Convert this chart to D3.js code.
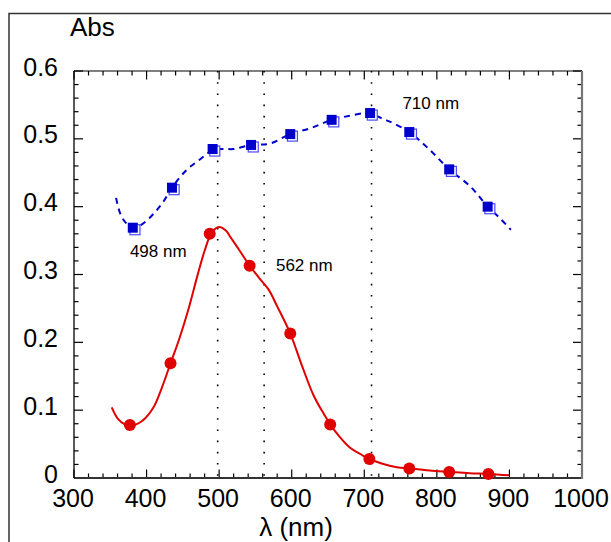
<!DOCTYPE html>
<html><head><meta charset="utf-8">
<script src="https://cdn.jsdelivr.net/npm/d3@7"></script>
<style>body{margin:0;background:#fff}svg{display:block}text{font-family:"Liberation Sans",Arial,sans-serif;fill:#000}</style>
</head><body>
<svg id="c" width="611" height="542"></svg>
<script>
// ---- data ----
const redCurveNm  = [352,360,370,380,395,410,420,433,445,458,470,480,490,500,510,515,529,542,555,568,580,598,615,630,645,653,665,680,695,707,725,745,762,790,817,845,871,900];
const redCurveAbs = [0.104,0.088,0.079,0.077,0.085,0.105,0.130,0.169,0.205,0.250,0.298,0.335,0.362,0.370,0.364,0.356,0.334,0.313,0.295,0.278,0.253,0.213,0.163,0.122,0.093,0.079,0.062,0.045,0.035,0.028,0.021,0.016,0.014,0.011,0.009,0.007,0.006,0.004];
const redMarkNm   = [377,433,487,542,598,653,707,762,817,871];
const redMarkAbs  = [0.078,0.169,0.360,0.313,0.213,0.079,0.028,0.014,0.009,0.006];

const blueCurveNm  = [358,363,370,381,395,410,423,435,455,474,491,505,520,544,570,598,627,655,680,700,708,726,736,762,790,817,846,870,885,902];
const blueCurveAbs = [0.413,0.392,0.378,0.369,0.375,0.390,0.407,0.428,0.454,0.470,0.483,0.485,0.485,0.491,0.493,0.507,0.516,0.528,0.534,0.538,0.538,0.529,0.525,0.510,0.484,0.455,0.430,0.400,0.385,0.366];
const blueMarkNm   = [381,435,491,544,598,655,708,762,817,870];
const blueMarkAbs  = [0.369,0.428,0.485,0.491,0.507,0.528,0.538,0.510,0.455,0.400];
const blueOpenNm   = [384,438,494,547,601,658,711,765,820,873];
const blueOpenAbs  = [0.366,0.425,0.482,0.488,0.504,0.525,0.535,0.507,0.452,0.397];

const peakLinesNm = [498,562,710];
const peakLabels  = ["498 nm","562 nm","710 nm"];
const xTicks = [300,400,500,600,700,800,900,1000];
const yTicks = [0,0.1,0.2,0.3,0.4,0.5,0.6];
const xTitle = "λ (nm)";
const yTitle = "Abs";

// ---- layout ----
const svg = d3.select("#c");
const L=74, R=582, T=71, B=478;
const x = d3.scaleLinear().domain([300,1000]).range([L,R]);
const y = d3.scaleLinear().domain([0,0.6]).range([B,T]);

// outer frame
svg.append("rect").attr("x",9).attr("y",13.5).attr("width",700).attr("height",700)
  .attr("fill","none").attr("stroke","#333").attr("stroke-width",1.5);

// dotted peak lines
svg.append("g").selectAll("line").data(peakLinesNm).join("line")
  .attr("x1",d=>x(d)).attr("x2",d=>x(d)).attr("y1",y(0.6)).attr("y2",y(0))
  .attr("stroke","#000").attr("stroke-width",1.6).attr("stroke-dasharray","1.6 9.6");

// ticks
const xMinor = d3.range(300,1001,20), yMinor = d3.range(0,0.6001,0.02);
const tg = svg.append("g").attr("stroke","#000").attr("stroke-width",1.2);
xMinor.forEach(v=>{
  const major = Math.abs(v%100)<1e-6;
  const len = major?8.5:4.5;
  tg.append("line").attr("x1",x(v)).attr("x2",x(v)).attr("y1",B).attr("y2",B-len);
  tg.append("line").attr("x1",x(v)).attr("x2",x(v)).attr("y1",T).attr("y2",T+len);
});
yMinor.forEach(v=>{
  const major = Math.abs(Math.round(v*10)-v*10)<1e-6;
  const len = major?9:4.5;
  tg.append("line").attr("x1",L).attr("x2",L+len).attr("y1",y(v)).attr("y2",y(v));
  tg.append("line").attr("x1",R).attr("x2",R-len).attr("y1",y(v)).attr("y2",y(v));
});

// axis lines
svg.append("line").attr("x1",L).attr("x2",R).attr("y1",T).attr("y2",T).attr("stroke","#000").attr("stroke-width",1.2);
svg.append("line").attr("x1",L).attr("x2",R+1).attr("y1",B).attr("y2",B).attr("stroke","#333").attr("stroke-width",1.8);
svg.append("line").attr("x1",L).attr("x2",L).attr("y1",T).attr("y2",B).attr("stroke","#000").attr("stroke-width",1.3);
svg.append("line").attr("x1",R).attr("x2",R).attr("y1",T).attr("y2",B+1).attr("stroke","#777").attr("stroke-width",2.2);

// tick labels
svg.append("g").selectAll("text").data(xTicks).join("text")
  .attr("x",d=>x(d)-1).attr("y",B+29).attr("text-anchor","middle").attr("font-size",25).text(d=>d);
svg.append("g").selectAll("text").data(yTicks).join("text")
  .attr("x",58).attr("y",d=>y(d)+4.5).attr("text-anchor","end").attr("font-size",25)
  .text(d=>d===0?"0":d3.format(".1f")(d));

// titles
svg.append("text").attr("x",70).attr("y",36).attr("font-size",26).text(yTitle);
svg.append("text").attr("x",296).attr("y",536).attr("text-anchor","middle").attr("font-size",26).text(xTitle);

// curves
const line = d3.line().x(d=>x(d[0])).y(d=>y(d[1])).curve(d3.curveCatmullRom.alpha(0.5));
svg.append("path").datum(d3.zip(redCurveNm,redCurveAbs)).attr("d",line)
  .attr("fill","none").attr("stroke","#e00000").attr("stroke-width",2);
svg.append("path").datum(d3.zip(blueCurveNm,blueCurveAbs)).attr("d",line)
  .attr("fill","none").attr("stroke","#0000cc").attr("stroke-width",2).attr("stroke-dasharray","6 5");

// markers
svg.append("g").selectAll("circle").data(d3.zip(redMarkNm,redMarkAbs)).join("circle")
  .attr("cx",d=>x(d[0])).attr("cy",d=>y(d[1])).attr("r",6).attr("fill","#e00000");
const s=10;
svg.append("g").selectAll("rect").data(d3.zip(blueOpenNm,blueOpenAbs)).join("rect")
  .attr("x",d=>x(d[0])-s/2).attr("y",d=>y(d[1])-s/2).attr("width",s).attr("height",s)
  .attr("fill","#fff").attr("stroke","#4a4aff").attr("stroke-width",1.2);
svg.append("g").selectAll("rect").data(d3.zip(blueMarkNm,blueMarkAbs)).join("rect")
  .attr("x",d=>x(d[0])-s/2).attr("y",d=>y(d[1])-s/2).attr("width",s).attr("height",s)
  .attr("fill","#0000cc");

// peak annotations
const annNm  = [377,578.3,752.5];
const annAbs = [0.326,0.305,0.544];
svg.append("g").selectAll("text").data(peakLabels).join("text")
  .attr("x",(d,i)=>x(annNm[i])).attr("y",(d,i)=>y(annAbs[i])).attr("font-size",17).text(d=>d);
</script>
</body></html>
